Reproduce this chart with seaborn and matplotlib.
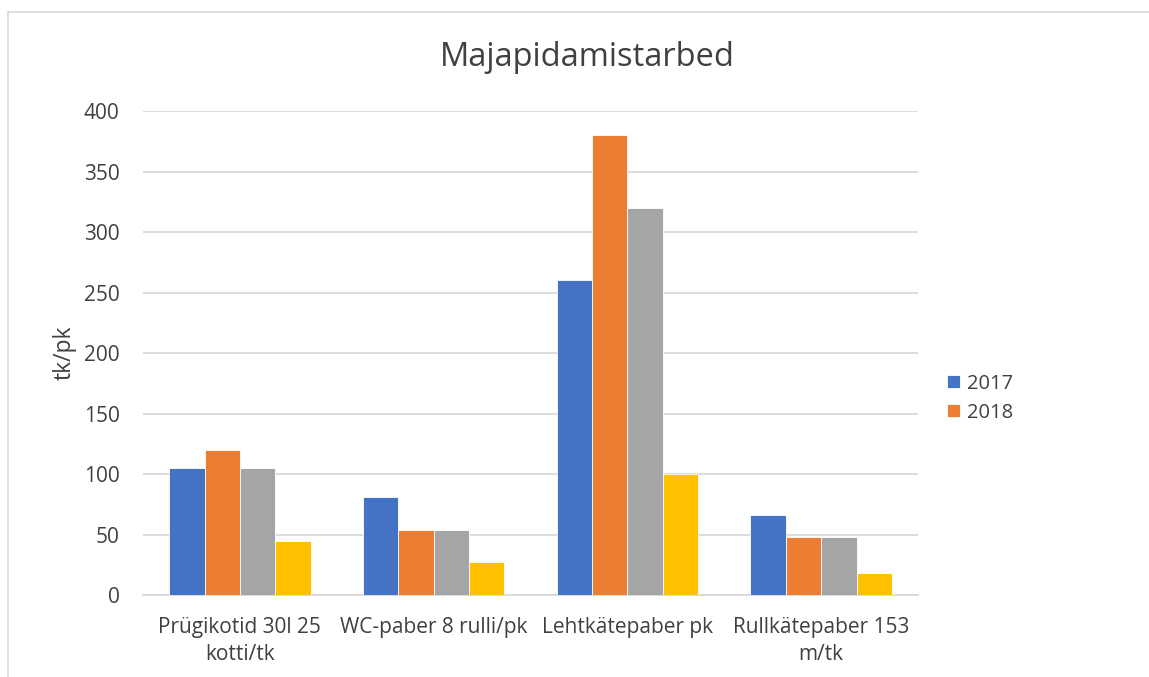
import matplotlib
matplotlib.use('Agg')
import matplotlib.pyplot as plt
import seaborn as sns
import pandas as pd
from matplotlib.lines import Line2D

# Data
categories = ['Prügikotid 30l 25\nkotti/tk', 'WC-paber 8 rulli/pk', 'Lehtkätepaber pk', 'Rullkätepaber 153\nm/tk']
series_names = ['2017', '2018', 'Sari3', 'Sari4']
v2017 = [105, 81, 260, 66]
v2018 = [120, 54, 380, 48]
v_sari3 = [105, 54, 320, 48]
v_sari4 = [45, 27, 100, 18]
yticks = [0, 50, 100, 150, 200, 250, 300, 350, 400]

colors = ['#4472C4', '#ED7D31', '#A5A5A5', '#FFC000']
text_color = '#404040'
grid_color = '#D9D9D9'

rows = []
for name, vals in zip(series_names, [v2017, v2018, v_sari3, v_sari4]):
    for cat, v in zip(categories, vals):
        rows.append({'kategooria': cat, 'sari': name, 'vaartus': v})
df = pd.DataFrame(rows)

sns.set_theme(style='white')
plt.rcParams['font.family'] = ['Open Sans', 'DejaVu Sans']

fig = plt.figure(figsize=(11.49, 6.77), dpi=100)
ax = fig.add_axes([0.1245, 0.1211, 0.799 - 0.1245, 0.836 - 0.1211])

sns.barplot(data=df, x='kategooria', y='vaartus', hue='sari', order=categories,
            hue_order=series_names, palette=colors, width=0.73, saturation=1,
            edgecolor='white', linewidth=0.6, ax=ax, zorder=3)

ax.set_xlim(-0.5, 3.5)
ax.set_ylim(0, 400)
ax.set_yticks(yticks)
ax.set_yticklabels([str(t) for t in yticks])
ax.yaxis.grid(True, color=grid_color, linewidth=1.3, zorder=0)
ax.set_axisbelow(True)
for s in ['top', 'right', 'left']:
    ax.spines[s].set_visible(False)
ax.spines['bottom'].set_color(grid_color)
ax.spines['bottom'].set_linewidth(1.3)
ax.tick_params(axis='both', length=0, labelsize=15, labelcolor=text_color)
ax.tick_params(axis='x', pad=16)
ax.tick_params(axis='y', pad=17)
ax.set_xlabel('')
ax.set_ylabel('tk/pk', fontsize=16.5, color=text_color, labelpad=5)
for lbl in ax.get_xticklabels():
    lbl.set_linespacing(1.38)

fig.text(0.511, 1 - 57 / 677, 'Majapidamistarbed', ha='center', va='center',
         fontsize=23.5, color=text_color)

# Legend shows only the first two series
handles, labels = ax.get_legend_handles_labels()
ax.legend(handles[:2], labels[:2], loc='center left', bbox_to_anchor=(0.8245, 0.412),
          bbox_transform=fig.transFigure, frameon=False, fontsize=14.5,
          labelcolor=text_color, handlelength=0.65, handleheight=0.65,
          handletextpad=0.35, labelspacing=0.45, borderaxespad=0, borderpad=0)

# light frame of the chart area
fig.add_artist(Line2D([8 / 1149, 1], [1 - 12 / 677, 1 - 12 / 677], color=grid_color, linewidth=1.2))
fig.add_artist(Line2D([8 / 1149, 8 / 1149], [0, 1 - 12 / 677], color=grid_color, linewidth=1.2))

fig.savefig('out.png', dpi=100, facecolor='white')
